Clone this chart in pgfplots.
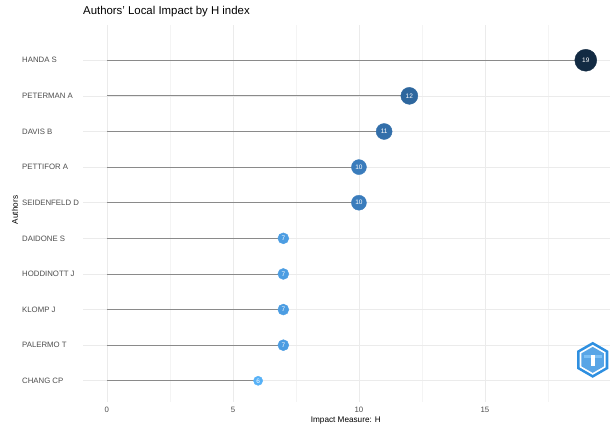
\documentclass[border=0pt]{standalone}
\usepackage{pgfplots}
\pgfplotsset{compat=1.18}
\usepackage{fontspec}
\setmainfont{Liberation Sans}
\definecolor{gridc}{HTML}{EBEBEB}
\definecolor{mgridc}{HTML}{F4F4F4}
\definecolor{tickc}{HTML}{4D4D4D}
\definecolor{segc}{HTML}{8A8A8A}
\definecolor{logob}{HTML}{2E8FE0}
\definecolor{logol}{HTML}{7CC0F5}
\definecolor{c19}{HTML}{132B43}
\definecolor{c12}{HTML}{2E679E}
\definecolor{c11}{HTML}{336FAA}
\definecolor{c10}{HTML}{3A7CBC}
\definecolor{c7}{HTML}{4C9DE2}
\definecolor{c6}{HTML}{56B1F7}
\begin{document}
\begin{tikzpicture}
\path (0pt,0pt) rectangle (610pt,-429pt);
\begin{axis}[
  at={(83pt,-25pt)}, anchor=north west,
  width=527pt, height=377pt, scale only axis,
  xmin=-0.95, xmax=19.95, ymin=0.41, ymax=10.99,
  xtick={0,5,10,15}, minor xtick={2.5,7.5,12.5,17.5},
  ytick={1,...,10},
  yticklabels={CHANG CP,PALERMO T,KLOMP J,HODDINOTT J,DAIDONE S,SEIDENFELD D,PETTIFOR A,DAVIS B,PETERMAN A,HANDA S},
  xmajorgrids, xminorgrids, ymajorgrids,
  major grid style={gridc, line width=0.6pt},
  minor grid style={mgridc, line width=0.5pt},
  axis line style={draw=none},
  major tick length=0pt, minor tick length=0pt,
  /pgf/number format/assume math mode=true,
  tick label style={font=\fontsize{7.8}{9}\selectfont, text=tickc},
  yticklabel style={anchor=west, xshift=-61pt, inner sep=0pt},
  xticklabel style={yshift=-2pt},
  clip=false,
  point meta=x,
  nodes near coords style={text=white, font=\fontsize{6.5}{7}\selectfont, anchor=center, inner sep=0pt},
]
\addplot[xcomb, segc, line width=0.8pt, no marks] coordinates {
(19,10) (12,9) (11,8) (10,7) (10,6) (7,5) (7,4) (7,3) (7,2) (6,1)};
\addplot[only marks, mark=*, mark size=11pt, c19, nodes near coords] coordinates {(19,10)};
\addplot[only marks, mark=*, mark size=8.5pt, c12, nodes near coords] coordinates {(12,9)};
\addplot[only marks, mark=*, mark size=8pt, c11, nodes near coords] coordinates {(11,8)};
\addplot[only marks, mark=*, mark size=7.5pt, c10, nodes near coords] coordinates {(10,7) (10,6)};
\addplot[only marks, mark=*, mark size=5.5pt, c7, nodes near coords] coordinates {(7,5) (7,4) (7,3) (7,2)};
\addplot[only marks, mark=*, mark size=4.6pt, c6, nodes near coords] coordinates {(6,1)};
\end{axis}
\node[anchor=west, font=\fontsize{11.4}{13}\selectfont, inner sep=0pt] at (83pt,-12pt) {Authors' Local Impact by H index};
\node[font=\fontsize{8.2}{9}\selectfont, inner sep=0pt] at (346pt,-421pt) {Impact Measure: H};
\node[font=\fontsize{8.2}{9}\selectfont, inner sep=0pt, rotate=90] at (15pt,-210pt) {Authors};
\begin{scope}[shift={(593pt,-360pt)}]
\fill[logob] (90:18pt) -- (150:18pt) -- (210:18pt) -- (270:18pt) -- (330:18pt) -- (30:18pt) -- cycle;
\fill[white] (90:15pt) -- (150:15pt) -- (210:15pt) -- (270:15pt) -- (330:15pt) -- (30:15pt) -- cycle;
\fill[logob!80] (90:13pt) -- (150:13pt) -- (210:13pt) -- (270:13pt) -- (330:13pt) -- (30:13pt) -- cycle;
\fill[logol] (-9pt,2pt) rectangle (9pt,5pt);
\fill[white] (-2pt,-6pt) rectangle (2pt,5pt);
\end{scope}
\end{tikzpicture}
\end{document}
